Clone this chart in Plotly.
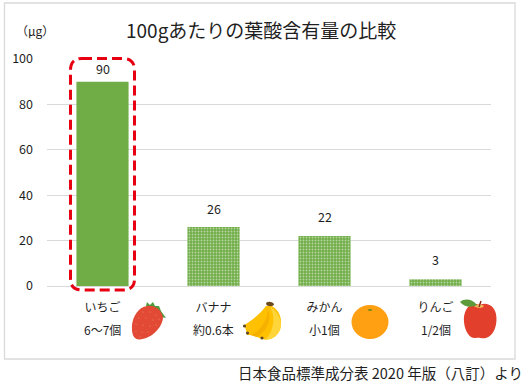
import plotly.graph_objects as go

W, H = 523, 387
categories = ["いちご", "バナナ", "みかん", "りんご"]
amounts = ["6～7個", "約0.6本", "小1個", "1/2個"]
values = [90, 26, 22, 3]
y_ticks = [0, 20, 40, 60, 80, 100]
title = "100gあたりの葉酸含有量の比較"
unit = "（μg）"
source = "日本食品標準成分表 2020 年版（八訂）より"

GREEN = "#70AD47"
GRID = "#D9D9D9"
FONT = "Noto Sans CJK JP"
TXT = "#1F1F1F"


def px(x):
    return x / W


def py(y):
    return 1 - y / H


def path(d):
    """Translate a path given in page pixels to paper coordinates."""
    out = []
    for tok in d.split():
        if "," in tok:
            a, b = tok.split(",")
            out.append(f"{px(float(a)):.5f},{py(float(b)):.5f}")
        else:
            out.append(tok)
    return " ".join(out)


def shp(d, fill, line="rgba(0,0,0,0)", width=0, dash=None):
    return dict(type="path", xref="paper", yref="paper", path=path(d), fillcolor=fill,
                line=dict(color=line, width=width, dash=dash), layer="above")


def ell(cx, cy, rx, ry, fill):
    return dict(type="circle", xref="paper", yref="paper", x0=px(cx - rx), x1=px(cx + rx),
                y0=py(cy + ry), y1=py(cy - ry), fillcolor=fill, line=dict(width=0), layer="above")


seed_spots = [(143, 312), (150, 312), (156, 315), (139, 318), (146, 318), (153, 320), (159, 319),
              (136, 324), (143, 325), (150, 326), (156, 325), (136, 331), (142, 332), (148, 332), (140, 337)]

shapes = [
    dict(type="rect", xref="paper", yref="paper", x0=px(4.5), x1=px(515), y0=py(359), y1=py(3),
         line=dict(color=GRID, width=1.3), fillcolor="rgba(0,0,0,0)", layer="below"),
    # highlight frame
    shp("M 82,58.5 L 123,58.5 Q 134.5,58.5 134.5,70 L 134.5,279 Q 134.5,290 123,290 L 82,290 Q 70.5,290 70.5,279 L 70.5,70 Q 70.5,58.5 82,58.5 Z",
        "rgba(0,0,0,0)", "#E60012", 3, "10px,5px"),
    # strawberry
    shp("M 146,306 L 147,302 L 150,305 L 153,302 L 155,306 L 159,306 L 161,311 L 166,318 L 161,317 L 158,312 L 150,309 Z", "#4E9A3C"),
    shp("M 147,306 C 155,305 162,310 163,318 C 162,327 153,338 140,339.5 C 133,340 131.5,333 132,325 C 133,316 139,307 147,306 Z", "#E24A35"),
]
shapes += [ell(x, y, 0.6, 0.6, "#F08A6A") for x, y in seed_spots]
shapes += [
    # banana
    shp("M 266,306 C 258,316 250,322 244,325 L 246,330 L 247,335 L 252,335 L 262,339 C 270,341 279,337 281,325 C 282,315 277,309 272,306 Z", "#FFC000"),
    shp("M 270,306 C 276,311 282,318 281,327 C 279,336 272,340 264,340 C 272,335 277,320 270,306 Z", "#FFD53A"),
    shp("M 268,308 C 268,320 260,332 250,335 L 257,337 C 267,331 272,320 268,308 Z", "#F6B100"),
    shp("M 266,304 C 266,301 272,301 274,304 C 274,307 267,307 266,304 Z", "#6B4A1E"),
    ell(244.5, 326, 1.6, 1.6, "#5E4A2A"), ell(247.5, 333, 1.6, 1.6, "#5E4A2A"), ell(262, 338, 1.6, 1.6, "#5E4A2A"),
    # orange
    ell(370, 322, 18.5, 17, "#FF9F12"),
    ell(370, 310, 2.2, 1, "#7A8A1E"),
    # apple
    shp("M 480,305 C 486,302 494,305 496,314 C 498,324 494,336 486,338 C 482,339 479,337 476,338 C 470,339 465,332 464,322 C 463,312 468,303 476,304 C 478,304 479,305 480,305 Z", "#E2402C"),
    shp("M 474,306 C 476,308 482,309 484,306 C 481,304 477,304 474,306 Z", "#F3B95A"),
    shp("M 460,302 C 465,298 472,299 477,305 C 471,308 464,307 460,302 Z", "#5C9A3C"),
    shp("M 479,307 L 481,301", "rgba(0,0,0,0)", "#8A2A1A", 1.5),
]

label_lift = [13, 18, 20, 20]

annotations = [
    dict(text=title, x=px(261), y=py(29), font=dict(size=19, color=TXT, family=FONT)),
    dict(text=unit, x=px(35), y=py(30.5), font=dict(size=12, color=TXT, family=FONT)),
    dict(text=source, x=px(380), y=py(372), font=dict(size=14.5, color=TXT, family=FONT)),
]
for i, a in enumerate(amounts):
    annotations.append(dict(text=a, x=i, xref="x", y=py(329), font=dict(size=12, color=TXT, family=FONT)))
for i, v in enumerate(values):
    annotations.append(dict(text=str(v), x=i, xref="x", y=v, yref="y", yshift=label_lift[i],
                            font=dict(size=12.5, color=TXT, family=FONT)))
for a in annotations:
    a.setdefault("xref", "paper")
    a.setdefault("yref", "paper")
    a.setdefault("xanchor", "center")
    a["yanchor"] = "middle"
    a["showarrow"] = False

fig = go.Figure()
fig.add_bar(
    x=categories, y=values, width=0.47,
    marker=dict(
        color=GREEN, line=dict(width=0),
        pattern=dict(shape=["", ".", ".", "."], size=3, solidity=0.3,
                     fgcolor="#FFFFFF", bgcolor=GREEN, fillmode="overlay"),
    ),
)
fig.update_layout(
    width=W, height=H, autosize=False, margin=dict(l=0, r=0, t=0, b=0),
    paper_bgcolor="white", plot_bgcolor="white", showlegend=False,
    font=dict(family=FONT, size=12, color=TXT), shapes=shapes, annotations=annotations,
)
fig.update_xaxes(domain=[px(47), px(491)], type="category", showgrid=False, ticks="", automargin=False,
                 showline=True, linecolor=GRID, linewidth=1.3, ticklabelstandoff=10,
                 tickfont=dict(size=12, color=TXT))
fig.update_yaxes(domain=[py(286), py(59)], range=[0, 100], tickvals=y_ticks, gridcolor=GRID, automargin=False,
                 gridwidth=1.3, zeroline=False, ticks="", ticklabelstandoff=13,
                 tickfont=dict(size=12.5, color=TXT))
fig.write_html("out.html", config={"displayModeBar": False}, post_script="document.body.style.margin='0';")
